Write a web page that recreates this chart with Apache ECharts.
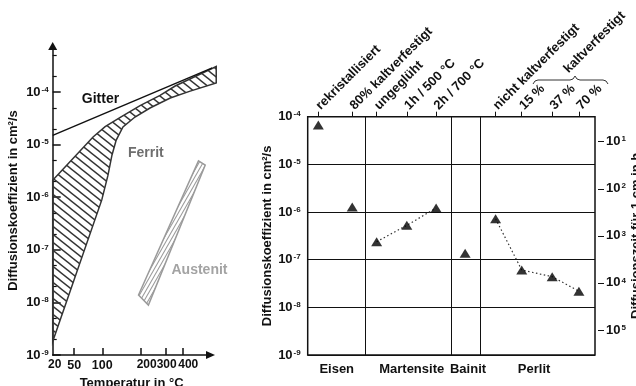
<!DOCTYPE html>
<html><head><meta charset="utf-8">
<script src="https://cdn.jsdelivr.net/npm/echarts@6/dist/echarts.min.js"></script>
<style>html,body{margin:0;padding:0;background:#fff}#c{width:636px;height:386px}</style>
</head><body><div id="c"></div>
<script>
// ---------- left chart: Arrhenius plot ----------
const tempTicks = [20, 50, 100, 200, 300, 400];
const dMajorTicks = [1e-9, 1e-8, 1e-7, 1e-6, 1e-5, 1e-4, 1e-3];
const dLabelTicks = [1e-9, 1e-8, 1e-7, 1e-6, 1e-5, 1e-4];
const dMinorTicks = [2e-9, 5e-9, 2e-8, 5e-8, 2e-7, 5e-7, 2e-6, 5e-6, 2e-5, 5e-5, 2e-4, 5e-4];
const gitterT = [20, 728];
const gitterD = [1.5e-5, 3.1e-4];
const ferritT = [20, 82, 106, 141, 198, 274, 350, 728, 728, 450, 323, 233, 182, 148, 131, 121, 112, 99, 20];
const ferritD = [2.1e-6, 1.4e-5, 2.2e-5, 3.3e-5, 5.5e-5, 8.6e-5, 1.3e-4, 3.05e-4, 1.48e-4, 1.04e-4, 7.7e-5, 4.97e-5, 3.35e-5, 2.16e-5, 1.22e-5, 6.3e-6, 2.6e-6, 8.9e-7, 1.8e-9];
const austenitT = [193, 227, 588, 520];
const austenitD = [1.38e-8, 8.9e-9, 4.1e-6, 4.9e-6];

// ---------- right chart: diffusion coefficients of steels ----------
const samplePos = [0.37, 1.55, 2.40, 3.45, 4.47, 5.48, 6.54, 7.45, 8.51, 9.44];
const sampleLabels = ['rekristallisiert', '80% kaltverfestigt', 'ungeglüht', '1h / 500 °C', '2h / 700 °C', '', 'nicht kaltverfestigt', '15 %', '37 %', '70 %'];
const sampleD = [6.7e-5, 1.27e-6, 2.38e-7, 5.26e-7, 1.21e-6, 1.36e-7, 7.2e-7, 6.07e-8, 4.4e-8, 2.18e-8];
const dottedGroups = [[2, 3, 4], [6, 7, 8, 9]];
const groupNames = ['Eisen', 'Martensite', 'Bainit', 'Perlit'];
const groupLabelPos = [1.01, 3.62, 5.58, 7.88];
const groupBounds = [2.02, 5.01, 6.0];
const timeTicks = [1e1, 1e2, 1e3, 1e4, 1e5];

const FONT = "'Liberation Sans', Arial, Helvetica, sans-serif";
const INK = '#111';
const toX = T => -1000 / (T + 273.15);
// small label nudges (px of left padding) used by the original to keep crowded labels apart
const tempLabelPad = { 20: 4, 200: 12, 300: 2, 400: 10 };

function hatch(w, h, color, lw, dir) {
  const c = document.createElement('canvas');
  c.width = w; c.height = h;
  const g = c.getContext('2d');
  g.strokeStyle = color; g.lineWidth = lw;
  for (let k = -1; k <= 1; k++) {
    g.beginPath();
    if (dir > 0) { g.moveTo(-1, k * h - h / w); g.lineTo(w + 1, (k + 1) * h + h / w); }
    else { g.moveTo(-1, (k + 1) * h + h / w); g.lineTo(w + 1, k * h - h / w); }
    g.stroke();
  }
  return { image: c, repeat: 'repeat' };
}

function polyRender(Ts, Ds, fill, stroke) {
  return function (params, api) {
    if (params.dataIndex !== 0) return null;
    const pts = Ts.map((t, i) => api.coord([toX(t), Ds[i]]));
    return { type: 'polygon', shape: { points: pts }, style: { fill: fill, stroke: stroke, lineWidth: 1.5 } };
  };
}

const rich = {
  b: { fontSize: 13, fontWeight: 'bold', fontFamily: FONT, color: INK },
  s: { fontSize: 8, fontWeight: 'bold', fontFamily: FONT, color: INK, verticalAlign: 'top', padding: [0, 0, 0, 1] }
};
const supFmt = v => '{b|10}{s|' + Math.round(Math.log10(v)) + '}';
const nearest = (arr, v) => { let bi = 0; arr.forEach((a, i) => { if (Math.abs(a - v) < Math.abs(arr[bi] - v)) bi = i; }); return bi; };
const titleStyle = { fontFamily: FONT, fontSize: 13, fontWeight: 'bold', color: INK };
const tempRich = {};
Object.keys(tempLabelPad).forEach(k => { tempRich['p' + k] = { fontSize: 12, fontWeight: 'bold', fontFamily: FONT, color: INK, padding: [0, 0, 0, tempLabelPad[k]] }; });
const tempFmt = v => {
  const t = Math.round(-1000 / v - 273.15);
  return tempLabelPad[t] ? '{p' + t + '|' + t + '}' : String(t);
};

const yTopLeft = 7.5e-4;
const tMaxLeft = 650;

const chart = echarts.init(document.getElementById('c'));
chart.setOption({
  animation: false,
  backgroundColor: '#fff',
  textStyle: { fontFamily: FONT },
  grid: [
    { left: 52.7, top: 46, width: 157.8, height: 309, outerBoundsMode: 'none', containLabel: false },
    { left: 307.7, top: 116.7, width: 287.3, height: 238.3, outerBoundsMode: 'none', containLabel: false, show: true, borderColor: INK, borderWidth: 1.5 }
  ],
  xAxis: [
    {
      gridIndex: 0, type: 'value', min: toX(20), max: toX(tMaxLeft),
      axisLine: { onZero: false, symbol: ['none', 'triangle'], symbolSize: [8, 9], lineStyle: { color: INK, width: 1.5 } },
      axisTick: { inside: true, length: 7, customValues: tempTicks.slice(1).map(toX), lineStyle: { color: INK, width: 1.5 } },
      axisLabel: { customValues: tempTicks.map(toX), formatter: tempFmt, rich: tempRich, hideOverlap: false, margin: 4, color: INK, fontSize: 12.5, fontWeight: 'bold', fontFamily: FONT },
      splitLine: { show: false },
      name: 'Temperatur in °C', nameLocation: 'middle', nameGap: 22, nameTextStyle: titleStyle
    },
    {
      gridIndex: 1, type: 'value', min: 0, max: 10, position: 'bottom',
      axisLine: { show: false, onZero: false }, axisTick: { show: false }, splitLine: { show: false },
      axisLabel: { customValues: groupLabelPos, formatter: v => groupNames[nearest(groupLabelPos, v)], hideOverlap: false, margin: 8, color: INK, fontSize: 13, fontWeight: 'bold', fontFamily: FONT }
    },
    {
      gridIndex: 1, type: 'value', min: 0, max: 10, position: 'top',
      axisLine: { show: false, onZero: false }, splitLine: { show: false },
      axisTick: { customValues: samplePos.filter((p, i) => sampleLabels[i]), length: 5, lineStyle: { color: INK, width: 1 } },
      axisLabel: { customValues: samplePos.filter((p, i) => sampleLabels[i]), formatter: v => sampleLabels[nearest(samplePos, v)], hideOverlap: false, rotate: -45, margin: 9, color: INK, fontSize: 13, fontWeight: 'bold', fontFamily: FONT }
    }
  ],
  yAxis: [
    {
      gridIndex: 0, type: 'log', min: 1e-9, max: yTopLeft, position: 'left',
      axisLine: { show: true, onZero: false, symbol: ['none', 'triangle'], symbolSize: [9, 8], lineStyle: { color: INK, width: 1.5 } },
      axisTick: { inside: true, length: 8, customValues: dMajorTicks, lineStyle: { color: INK, width: 1.5 } },
      axisLabel: { customValues: dLabelTicks, formatter: supFmt, rich: rich, margin: 4, hideOverlap: false },
      splitLine: { show: false }, minorTick: { show: false },
      name: 'Diffusionskoeffizient in cm²/s', nameLocation: 'middle', nameRotate: 90, nameGap: 33, nameTextStyle: titleStyle
    },
    {
      gridIndex: 0, type: 'log', min: 1e-9, max: yTopLeft, position: 'left',
      axisLine: { show: false, onZero: false },
      axisTick: { inside: true, length: 4, customValues: dMinorTicks, lineStyle: { color: INK, width: 1.2 } },
      axisLabel: { show: false }, splitLine: { show: false }, minorTick: { show: false }
    },
    {
      gridIndex: 1, type: 'log', min: 1e-9, max: 1e-4, position: 'left',
      axisLine: { show: false, onZero: false }, axisTick: { show: false }, minorTick: { show: false },
      axisLabel: { formatter: supFmt, rich: rich, margin: 7, hideOverlap: false },
      splitLine: { show: true, lineStyle: { color: INK, width: 1 } },
      name: 'Diffusionskoeffizient in cm²/s', nameLocation: 'middle', nameRotate: 90, nameGap: 25, nameTextStyle: titleStyle
    },
    {
      gridIndex: 1, type: 'log', inverse: true, min: 2.94, max: 3.4e5, position: 'right', offset: 3,
      axisLine: { show: false, onZero: false }, minorTick: { show: false },
      axisTick: { inside: false, customValues: timeTicks, length: 6, lineStyle: { color: INK, width: 1 } },
      axisLabel: { customValues: timeTicks, formatter: supFmt, rich: rich, margin: 8, hideOverlap: false },
      splitLine: { show: false },
      name: 'Diffusionszeit für 1 cm in h', nameLocation: 'middle', nameRotate: 90, nameGap: 21, nameTextStyle: titleStyle
    }
  ],
  graphic: [
    { type: 'text', x: 100.5, y: 99.5, style: { text: 'Gitter', font: 'bold 14px ' + FONT, fill: INK, align: 'center', verticalAlign: 'middle' } },
    { type: 'text', x: 145.8, y: 153.3, style: { text: 'Ferrit', font: 'bold 14px ' + FONT, fill: '#6e6e6e', align: 'center', verticalAlign: 'middle' } },
    { type: 'text', x: 199.5, y: 270, style: { text: 'Austenit', font: 'bold 14px ' + FONT, fill: '#a3a3a3', align: 'center', verticalAlign: 'middle' } },
    { type: 'polyline', shape: { points: [[533, 84], [535, 81], [538, 80], [570, 80], [573, 79], [575, 76], [577, 79], [580, 80], [603, 80], [606, 81], [608, 84]] }, style: { fill: null, stroke: '#333', lineWidth: 1 } },
    { type: 'text', x: 566, y: 71, rotation: Math.PI / 4, style: { text: 'kaltverfestigt', font: 'bold 13px ' + FONT, fill: INK, align: 'left', verticalAlign: 'middle' } }
  ],
  series: [
    {
      type: 'custom', xAxisIndex: 0, yAxisIndex: 0, clip: false, silent: true, z: 2,
      renderItem: polyRender(ferritT, ferritD, hatch(10, 8, '#333', 1.4, 1), '#333'),
      data: ferritT.map((t, i) => [toX(t), ferritD[i]])
    },
    {
      type: 'custom', xAxisIndex: 0, yAxisIndex: 0, clip: false, silent: true, z: 2,
      renderItem: polyRender(austenitT, austenitD, hatch(4, 7, '#9a9a9a', 1.1, -1), '#9a9a9a'),
      data: austenitT.map((t, i) => [toX(t), austenitD[i]])
    },
    {
      type: 'line', xAxisIndex: 0, yAxisIndex: 0, clip: false, silent: true, symbol: 'none', z: 3,
      lineStyle: { color: INK, width: 1.5 },
      data: gitterT.map((t, i) => [toX(t), gitterD[i]])
    },
    ...dottedGroups.map(g => ({
      type: 'line', xAxisIndex: 1, yAxisIndex: 2, silent: true, symbol: 'none', z: 3,
      lineStyle: { color: '#333', width: 1.2, type: [1.5, 2.5] },
      data: g.map(i => [samplePos[i], sampleD[i]])
    })),
    {
      type: 'scatter', xAxisIndex: 1, yAxisIndex: 2, symbol: 'triangle', symbolSize: [11, 9], z: 4,
      itemStyle: { color: '#000' },
      data: samplePos.map((p, i) => [p, sampleD[i]]),
      markLine: {
        silent: true, symbol: ['none', 'none'], label: { show: false },
        lineStyle: { color: INK, width: 1, type: 'solid' },
        data: groupBounds.map(x => ({ xAxis: x }))
      }
    }
  ]
});
</script>
</body></html>
